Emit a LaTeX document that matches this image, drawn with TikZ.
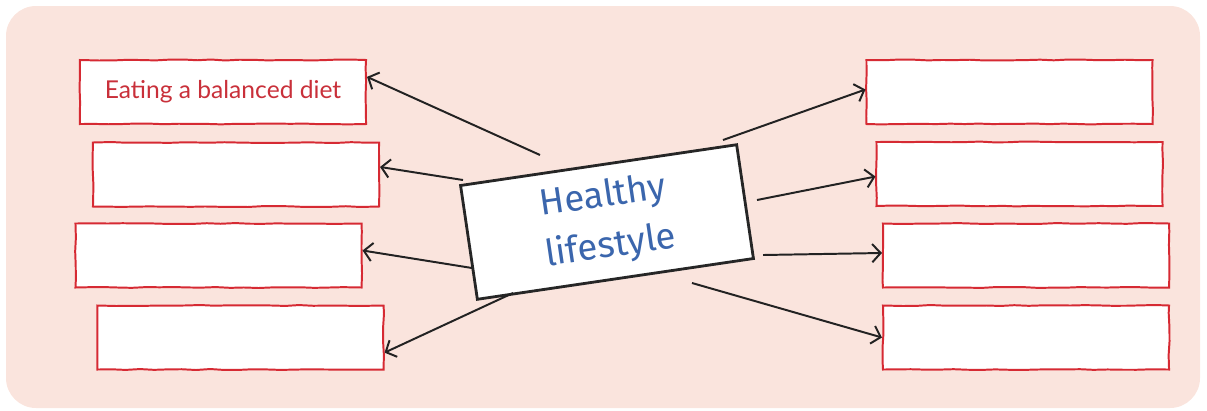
\documentclass[tikz,border=0pt]{standalone}
\usepackage{fontspec}
\setmainfont{Lato}
\newfontfamily\topicfont{Fira Sans}
\usetikzlibrary{arrows.meta,positioning,decorations.pathmorphing}
\definecolor{bgpink}{HTML}{FAE4DD}
\definecolor{boxred}{HTML}{D62A33}
\definecolor{textred}{HTML}{C9303A}
\definecolor{textblue}{HTML}{3B66AD}
\definecolor{arrowgrey}{HTML}{222222}

\begin{document}
\begin{tikzpicture}[x=0.025cm, y=-0.025cm,
    answerbox/.style={draw=boxred, fill=white, line width=1.4pt,
      minimum width=7.15cm, minimum height=1.6cm, inner sep=0pt,
      text=textred, font=\fontsize{17.5}{20}\selectfont,
      decorate, decoration={random steps, segment length=10pt, amplitude=0.35pt}},
    topicbox/.style={draw=black!85, fill=white, line width=2pt,
      minimum width=6.975cm, minimum height=2.875cm, inner sep=0pt,
      align=center, text=textblue, font=\topicfont\fontsize{26}{36}\selectfont},
    linkarrow/.style={draw=arrowgrey, line width=1.4pt,
      -{Straight Barb[length=6pt, width=13pt]}}]
    \pgfmathsetseed{7}
    \useasboundingbox (0,0) rectangle (1207,410);
    \fill[bgpink, rounded corners=0.75cm] (6,6) rectangle (1200,408);

    % boxes on the left
    \node[answerbox] (L1) at (223,92) {Eating a balanced diet};
    \node[answerbox] (L2) at (236,174.5) {};
    \node[answerbox] (L3) at (218.5,255.5) {};
    \node[answerbox] (L4) at (240.5,337.5) {};

    % boxes on the right
    \node[answerbox] (R1) at (1009.5,92) {};
    \node[answerbox] (R2) at (1019.5,174) {};
    \node[answerbox] (R3) at (1026,255.5) {};
    \node[answerbox] (R4) at (1026,337.5) {};

    \node[topicbox, rotate=8.4] (hl) at (607,222) {Healthy\\lifestyle};

    \coordinate (s1) at (540,155);
    \coordinate (s2) at (463,180);
    \coordinate (s3) at (472,268);
    \coordinate (s4) at (513,293);
    \coordinate (s5) at (723,140);
    \coordinate (s6) at (757,200);
    \coordinate (s7) at (763,255);
    \coordinate (s8) at (692,283);

    \draw[linkarrow] (s1) -- (L1.6);
    \draw[linkarrow] (s2) -- (L2.3);
    \draw[linkarrow] (s3) -- (L3.2);
    \draw[linkarrow] (s4) -- (L4.-6);
    \draw[linkarrow] (s5) -- (R1.179);
    \draw[linkarrow] (s6) -- (R2.181);
    \draw[linkarrow] (s7) -- (R3.179);
    \draw[linkarrow] (s8) -- (R4.180);
  \end{tikzpicture}
\end{document}
